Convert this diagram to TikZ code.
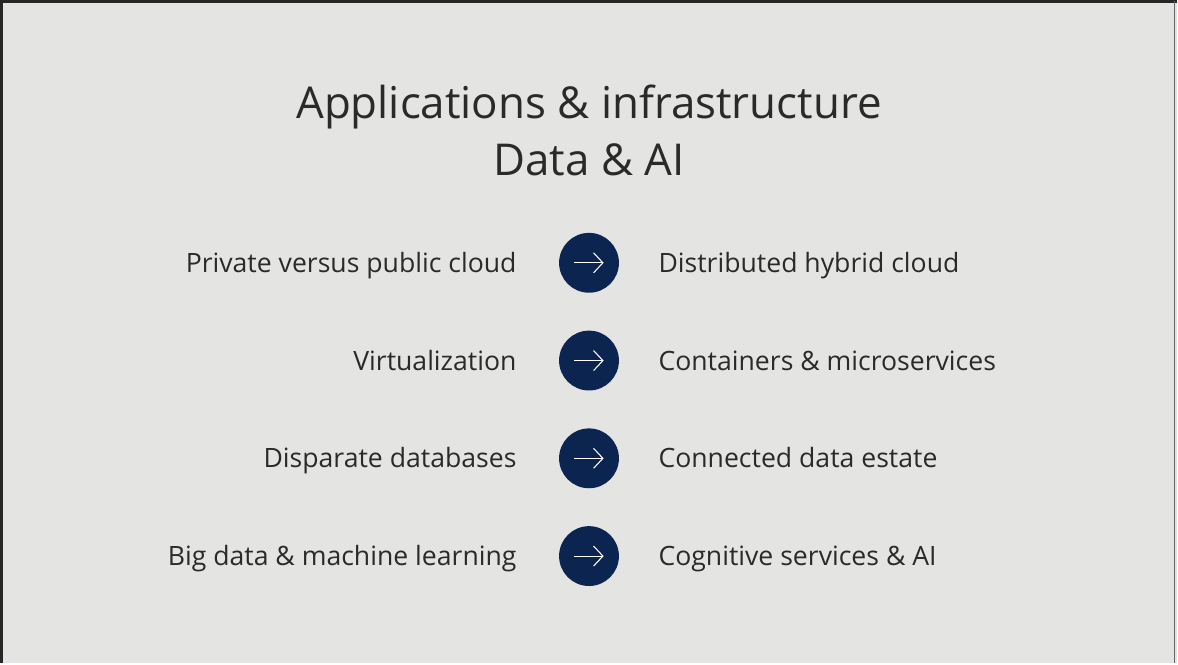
\documentclass[tikz,border=0pt]{standalone}
\usepackage{fontspec}
\setmainfont{Open Sans}
\usetikzlibrary{arrows.meta}
\definecolor{slidebg}{HTML}{E4E5E2}
\definecolor{navy}{HTML}{0C2550}
\definecolor{txt}{HTML}{2A2A2A}
\tikzset{
  lhs/.style={anchor=east,text=txt,font=\fontsize{20}{24}\selectfont,text height=14pt,text depth=4pt},
  rhs/.style={anchor=west,text=txt,font=\fontsize{20}{24}\selectfont,text height=14pt,text depth=4pt},
  dot/.style={circle,fill=navy,minimum size=45pt,inner sep=0pt}
}
\begin{document}
\begin{tikzpicture}[x=0.75pt,y=-0.75pt]
  \fill[slidebg] (0,0) rectangle (1178,663);
  \draw[line width=2.2pt,black!85] (0,663)--(0,0)--(1178,0);
  \draw[line width=1pt,black!60] (1176,0)--(1176,663);
  \useasboundingbox (0,0) rectangle (1178,663);

  \node[text=txt,font=\fontsize{33}{43}\selectfont,align=center] (title) at (589,129)
    {Applications \& infrastructure\\Data \& AI};

  % rows
  \foreach \y/\l/\r [count=\i] in {262/Private versus public cloud/Distributed hybrid cloud,
      360/Virtualization/Containers \& microservices,
      458/Disparate databases/Connected data estate,
      556/Big data \& machine learning/Cognitive services \& AI} {
    \node[dot] (c\i) at (589,\y) {};
    \node[lhs] (l\i) at (521,\y+3) {\l};
    \node[rhs] (r\i) at (654,\y+3) {\r};
    \draw[white,line width=0.8pt,-{Straight Barb[length=7pt,width=15pt]}] ([xshift=-11pt]c\i.center) -- ([xshift=11pt]c\i.center);
  }
\end{tikzpicture}
\end{document}
